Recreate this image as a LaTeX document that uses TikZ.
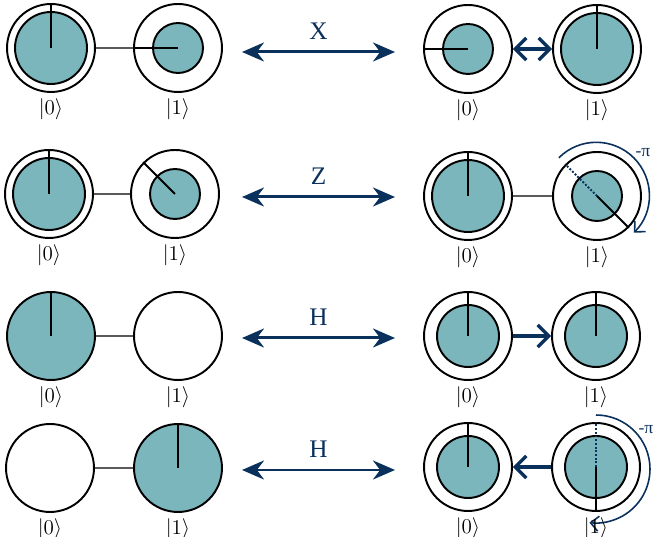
\documentclass[tikz,border=0pt]{standalone}
\usepackage{fontspec}
\setmainfont{Liberation Serif}
\definecolor{qteal}{RGB}{122,182,188}
\definecolor{gatenavy}{RGB}{10,48,92}
\definecolor{linkgray}{RGB}{90,90,90}
\usetikzlibrary{arrows.meta, positioning, calc}

\begin{document}
\begin{tikzpicture}[x=0.02cm, y=0.02cm, every node/.style={font=\large},
  ring/.style={circle, draw, line width=1.1pt, minimum size=1.76cm, inner sep=0pt},
  corebig/.style={circle, draw, line width=1.1pt, fill=qteal, inner sep=0pt, minimum size=1.44cm},
  coremid/.style={corebig, minimum size=1.24cm},
  coresmall/.style={corebig, minimum size=1cm},
  needle/.style={line width=1.1pt},
  ghost/.style={gatenavy, line width=1.1pt, densely dotted},
  link/.style={draw=linkgray, line width=0.7pt},
  gate/.style={gatenavy, line width=1.7pt, {Stealth[length=0.44cm,width=0.38cm]}-{Stealth[length=0.44cm,width=0.38cm]}},
  gatetext/.style={font=\Large, text=gatenavy},
  move/.style={gatenavy, line width=1.9pt, -{Straight Barb[length=0.22cm,width=0.44cm]}},
  swap/.style={gatenavy, line width=1.9pt, {Straight Barb[length=0.22cm,width=0.44cm]}-{Straight Barb[length=0.22cm,width=0.44cm]}},
  phase/.style={gatenavy, line width=0.9pt, -{Straight Barb[length=0.16cm,width=0.3cm]}},
  phasetext/.style={font=\normalsize, text=gatenavy}]
\useasboundingbox (0,0) rectangle (653,537);
% Row 1: X gate
\node[ring] (l0a) at (51,489) {};
\node[corebig] (l0ac) at (l0a) {};
\node[ring] (l1a) at (178,489) {};
\node[coresmall] (l1ac) at (l1a) {};
\draw[link] (l0a) -- (l1a);
\draw[needle] (l0a.center) -- (l0a.north);
\draw[needle] (l1a.center) -- (l1a.west);
\node[below=0pt of l0a] (k0a) {$|0\rangle$};
\node[below=0pt of l1a] (k1a) {$|1\rangle$};
\coordinate (ga0) at (242,485);
\coordinate (ga1) at (395,485);
\draw[gate] (ga0) -- (ga1) node[midway, above=3pt, gatetext] (gla) {X};
\node[ring] (r0a) at (468,488) {};
\node[coresmall] (r0ac) at (r0a) {};
\node[ring] (r1a) at (597,488) {};
\node[corebig] (r1ac) at (r1a) {};
\draw[needle] (r0a.center) -- (r0a.west);
\draw[needle] (r1a.center) -- (r1a.north);
\draw[swap] (r0a) -- (r1a);
\node[below=0pt of r0a] (m0a) {$|0\rangle$};
\node[below=0pt of r1a] (m1a) {$|1\rangle$};
% Row 2: Z gate
\node[ring] (l0b) at (49,343) {};
\node[corebig] (l0bc) at (l0b) {};
\node[ring] (l1b) at (175,343) {};
\node[coresmall] (l1bc) at (l1b) {};
\draw[link] (l0b) -- (l1b);
\draw[needle] (l0b.center) -- (l0b.north);
\draw[needle] (l1b.center) -- (l1b.135);
\node[below=0pt of l0b] (k0b) {$|0\rangle$};
\node[below=0pt of l1b] (k1b) {$|1\rangle$};
\coordinate (gb0) at (242,340);
\coordinate (gb1) at (395,340);
\draw[gate] (gb0) -- (gb1) node[midway, above=3pt, gatetext] (glb) {Z};
\node[ring] (r0b) at (468,341) {};
\node[corebig] (r0bc) at (r0b) {};
\node[ring] (r1b) at (597,341) {};
\node[coresmall] (r1bc) at (r1b) {};
\draw[link] (r0b) -- (r1b);
\draw[needle] (r0b.center) -- (r0b.north);
\draw[ghost] (r1b.center) -- (r1b.135);
\draw[needle] (r1b.center) -- (r1b.-45);
\draw[phase] ([shift={(135:1.08cm)}]r1b.center) arc[start angle=135, end angle=-45, radius=1.06cm];
\node[phasetext] (pb) at (643,384) {-π};
\node[below=0pt of r0b] (m0b) {$|0\rangle$};
\node[below=0pt of r1b] (m1b) {$|1\rangle$};
% Row 3: H gate on |0>
\node[ring, fill=qteal] (l0c) at (51,201) {};
\node[ring] (l1c) at (178,201) {};
\draw[link] (l0c) -- (l1c);
\draw[needle] (l0c.center) -- (l0c.north);
\node[below=0pt of l0c] (k0c) {$|0\rangle$};
\node[below=0pt of l1c] (k1c) {$|1\rangle$};
\coordinate (gc0) at (242,199);
\coordinate (gc1) at (395,199);
\draw[gate] (gc0) -- (gc1) node[midway, above=3pt, gatetext] (glc) {H};
\node[ring] (r0c) at (468,201) {};
\node[coremid] (r0cc) at (r0c) {};
\node[ring] (r1c) at (596,201) {};
\node[coremid] (r1cc) at (r1c) {};
\draw[needle] (r0c.center) -- (r0c.north);
\draw[needle] (r1c.center) -- (r1c.north);
\draw[move] (r0c) -- (r1c);
\node[below=0pt of r0c] (m0c) {$|0\rangle$};
\node[below=0pt of r1c] (m1c) {$|1\rangle$};
% Row 4: H gate on |1>
\node[ring] (l0d) at (50,69) {};
\node[ring, fill=qteal] (l1d) at (178,69) {};
\draw[link] (l0d) -- (l1d);
\draw[needle] (l1d.center) -- (l1d.north);
\node[below=0pt of l0d] (k0d) {$|0\rangle$};
\node[below=0pt of l1d] (k1d) {$|1\rangle$};
\coordinate (gd0) at (242,67);
\coordinate (gd1) at (395,67);
\draw[gate] (gd0) -- (gd1) node[midway, above=3pt, gatetext] (gld) {H};
\node[ring] (r0d) at (468,70) {};
\node[coremid] (r0dc) at (r0d) {};
\node[ring] (r1d) at (596,70) {};
\node[coremid] (r1dc) at (r1d) {};
\draw[needle] (r0d.center) -- (r0d.north);
\draw[ghost] (r1d.center) -- (r1d.north);
\draw[needle] (r1d.center) -- (r1d.south);
\draw[move] (r1d) -- (r0d);
\draw[phase] ([shift={(90:1.04cm)}]r1d.center) arc[start angle=90, end angle=-97, radius=1.08cm];
\node[phasetext] (pd) at (646,107) {-π};
\node[below=0pt of r0d] (m0d) {$|0\rangle$};
\node[below=0pt of r1d] (m1d) {$|1\rangle$};
\end{tikzpicture}
\end{document}
